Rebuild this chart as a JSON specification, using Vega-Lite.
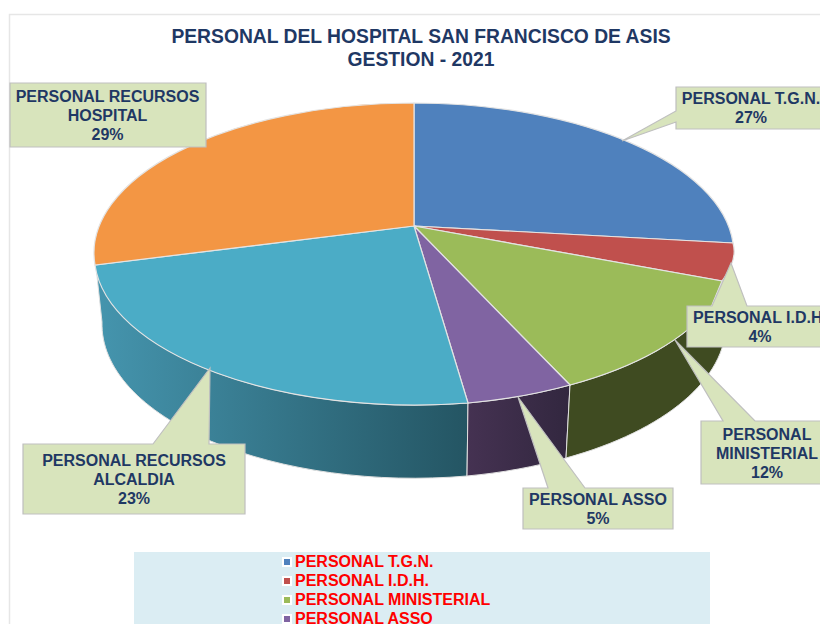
{"$schema":"https://vega.github.io/schema/vega-lite/v6.json","width":820,"height":624,"padding":0,"autosize":{"type":"none"},"background":"white","view":{"stroke":null},
"title":{"text":["PERSONAL DEL HOSPITAL SAN FRANCISCO DE ASIS","GESTION - 2021"],"font":"Liberation Sans","fontSize":19.3,"fontWeight":"bold","color":"#1F3864","anchor":"middle","lineHeight":23,"dx":11,"dy":74},
"data":{"values":[
{"personal":"PERSONAL T.G.N.","porcentaje":27,"etiqueta":"PERSONAL T.G.N.\n27%"},
{"personal":"PERSONAL I.D.H.","porcentaje":4,"etiqueta":"PERSONAL I.D.H.\n4%"},
{"personal":"PERSONAL MINISTERIAL","porcentaje":12,"etiqueta":"PERSONAL\nMINISTERIAL\n12%"},
{"personal":"PERSONAL ASSO","porcentaje":5,"etiqueta":"PERSONAL ASSO\n5%"},
{"personal":"PERSONAL RECURSOS ALCALDIA","porcentaje":23,"etiqueta":"PERSONAL RECURSOS\nALCALDIA\n23%"},
{"personal":"PERSONAL RECURSOS HOSPITAL","porcentaje":29,"etiqueta":"PERSONAL RECURSOS\nHOSPITAL\n29%"}
]},
"layer":[
{"transform":[{"filter":"datum.porcentaje==27"}],"mark":{"type":"point","filled":false,"size":4,"opacity":1,"stroke":"#E6E6E6","strokeWidth":1.5},"encoding":{"x":{"value":0},"y":{"value":0},"shape":{"value":"M9.5 624 L9.5 14.5 L820 14.5"}}},
{"transform":[{"filter":"datum.porcentaje==27"}],"mark":{"type":"point","filled":true,"size":4,"opacity":1,"fill":"#DBEDF3","strokeWidth":0},"encoding":{"x":{"value":0},"y":{"value":0},"shape":{"value":"M134 552 L710 552 L710 624 L134 624 Z"}}},
{"transform":[{"filter":"datum.porcentaje==23"}],"mark":{"type":"point","filled":true,"size":4,"opacity":1,"stroke":"#E0E0E0","strokeWidth":1,"fill":{"gradient":"linear","x1":0,"y1":0,"x2":1,"y2":0,"stops":[{"offset":0,"color":"#4595AE"},{"offset":1,"color":"#245563"}]}},"encoding":{"x":{"value":0},"y":{"value":0},"shape":{"value":"M96 267 A320.5 150 0 0 0 468 403 L467 476 A312 154 0 0 1 102 322 Z"}}},
{"transform":[{"filter":"datum.porcentaje==5"}],"mark":{"type":"point","filled":true,"size":4,"opacity":1,"stroke":"#E0E0E0","strokeWidth":1,"fill":{"gradient":"linear","x1":0,"y1":0,"x2":1,"y2":0,"stops":[{"offset":0,"color":"#453252"},{"offset":1,"color":"#32273F"}]}},"encoding":{"x":{"value":0},"y":{"value":0},"shape":{"value":"M468 403 A320.5 150 0 0 0 570 385 L566 458 A312 154 0 0 1 467 476 Z"}}},
{"transform":[{"filter":"datum.porcentaje==12"}],"mark":{"type":"point","filled":true,"size":4,"opacity":1,"stroke":"#E0E0E0","strokeWidth":1,"fill":"#3F4B21"},"encoding":{"x":{"value":0},"y":{"value":0},"shape":{"value":"M570 385 A320.5 150 0 0 0 712 305 L726 322 A312 154 0 0 1 566 458 Z"}}},
{"mark":{"type":"point","filled":true,"size":4,"opacity":1,"stroke":"#E3E3E3","strokeWidth":1.2},"encoding":{"x":{"value":0},"y":{"value":0},
"shape":{"field":"personal","type":"nominal","legend":null,"scale":{"domain":["PERSONAL T.G.N.","PERSONAL I.D.H.","PERSONAL MINISTERIAL","PERSONAL ASSO","PERSONAL RECURSOS ALCALDIA","PERSONAL RECURSOS HOSPITAL"],"range":["M414 226 L414 103 A320.5 150 0 0 1 733 243 Z","M414 226 L733 243 Q738 260 722 281 Z","M414 226 L722 281 L712 305 A320.5 150 0 0 1 570 385 Z","M414 226 L570 385 A320.5 150 0 0 1 468 403 Z","M414 226 L468 403 A320.5 150 0 0 1 95 265 Z","M414 226 L95 265 A320.5 150 0 0 1 414 103 Z"]}},
"fill":{"field":"personal","type":"nominal","scale":{"domain":["PERSONAL T.G.N.","PERSONAL I.D.H.","PERSONAL MINISTERIAL","PERSONAL ASSO","PERSONAL RECURSOS ALCALDIA","PERSONAL RECURSOS HOSPITAL"],"range":["#4F81BD","#C0504D","#9BBB59","#8064A2","#4BACC6","#F39644"]},
"legend":{"title":null,"orient":"none","legendX":279,"legendY":554,"zindex":1,"symbolType":"square","symbolSize":64,"symbolStrokeColor":"white","symbolStrokeWidth":2,"labelFont":"Liberation Sans","labelFontSize":16,"labelFontWeight":"bold","labelColor":"#FF0000","labelLimit":400,"rowPadding":3,"labelOffset":0,"padding":0}}}},
{"mark":{"type":"point","filled":true,"size":4,"opacity":1,"fill":"#D8E4BC","stroke":"#BFBFBF","strokeWidth":1.2},"encoding":{"x":{"value":0},"y":{"value":0},
"shape":{"field":"personal","type":"nominal","legend":null,"scale":{"domain":["PERSONAL T.G.N.","PERSONAL I.D.H.","PERSONAL MINISTERIAL","PERSONAL ASSO","PERSONAL RECURSOS ALCALDIA","PERSONAL RECURSOS HOSPITAL"],"range":["M676 87 L830 87 L830 129 L676 129 L676 122 L622 141 L676 111 Z","M687 306 L712 306 L731 263 L747 306 L830 306 L830 347 L687 347 Z","M701 421 L723 421 L675 340 L755 421 L830 421 L830 484 L701 484 Z","M523 488 L548 488 L518 397 L585 488 L673 488 L673 529 L523 529 Z","M23 444 L153 444 L210 368 L209 444 L245 444 L245 514 L23 514 Z","M10 83 L206 83 L206 147 L10 147 Z"]}}}},
{"mark":{"type":"text","font":"Liberation Sans","fontSize":16,"fontWeight":"bold","color":"#1F3864","align":"center","baseline":"middle","lineBreak":"\n","lineHeight":19},"encoding":{
"text":{"field":"etiqueta","type":"nominal"},
"x":{"field":"porcentaje","type":"quantitative","axis":null,"scale":{"domain":[4,5,12,23,27,29],"range":[760,598,767,134,751,107.5],"nice":false,"zero":false}},
"y":{"field":"porcentaje","type":"quantitative","axis":null,"scale":{"domain":[4,5,12,23,27,29],"range":[318,500,435,461,99,97],"nice":false,"zero":false}}}}
],
"resolve":{"scale":{"shape":"independent"},"legend":{"fill":"shared"}}}
